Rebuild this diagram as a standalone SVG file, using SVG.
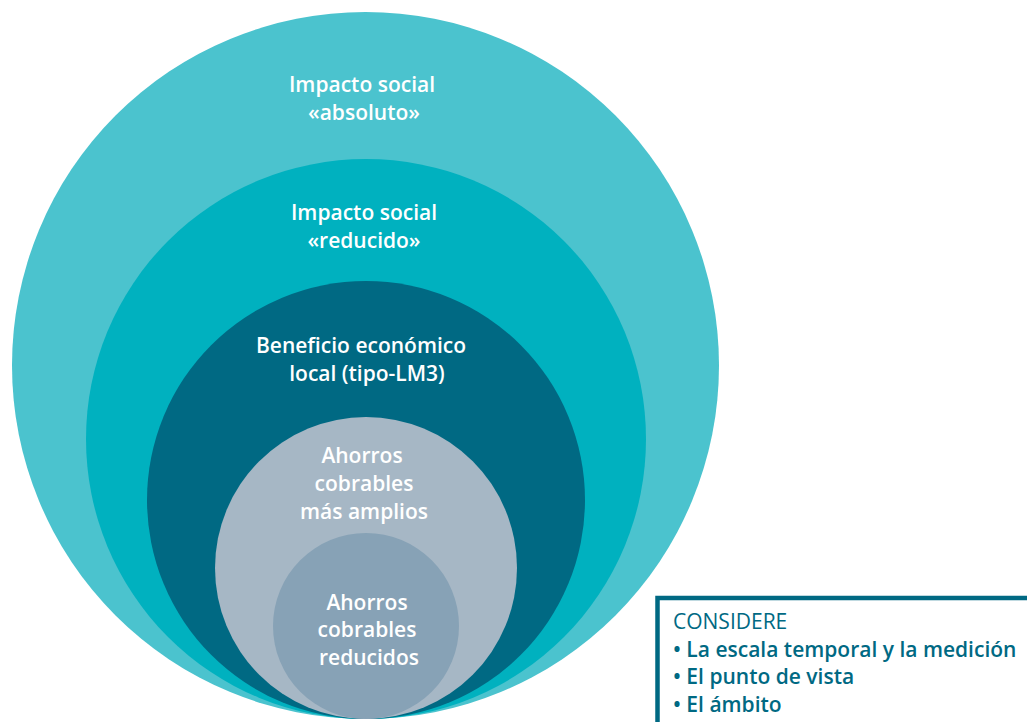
<svg xmlns="http://www.w3.org/2000/svg" width="1027" height="722" viewBox="0 0 1027 722">
<style>
.lbl{font-family:"Open Sans","Liberation Sans",sans-serif;font-size:21px;font-weight:550;fill:#ffffff;text-anchor:middle}
.box{font-family:"Open Sans","Liberation Sans",sans-serif;font-size:21px;font-weight:550;fill:#006983}
.hd{font-weight:500}
</style>
<rect width="1027" height="722" fill="#ffffff"/>
<g id="n1"><circle cx="365.5" cy="365.5" r="353.5" fill="#4BC3CE"/>
<text class="lbl" x="362" y="92">Impacto social</text><text class="lbl" x="364" y="120">«absoluto»</text></g>
<g id="n2"><circle cx="366" cy="439" r="280" fill="#00B1BF"/>
<text class="lbl" x="364" y="220">Impacto social</text><text class="lbl" x="364" y="248">«reducido»</text></g>
<g id="n3"><circle cx="366" cy="500" r="219" fill="#006983"/>
<text class="lbl" x="361" y="353">Beneficio económico</text><text class="lbl" x="367" y="381">local (tipo-LM3)</text></g>
<g id="n4"><circle cx="366" cy="568" r="151" fill="#A6B7C5"/>
<text class="lbl" x="362" y="463">Ahorros</text><text class="lbl" x="364" y="491">cobrables</text><text class="lbl" x="364" y="519">más amplios</text></g>
<g id="n5"><circle cx="366" cy="626" r="93" fill="#87A2B6"/>
<text class="lbl" x="367" y="610">Ahorros</text><text class="lbl" x="367" y="637">cobrables</text><text class="lbl" x="369" y="665">reducidos</text></g>
<g id="considere">
<path d="M657.5 722 V598 H1027" fill="none" stroke="#006983" stroke-width="4.5"/>
<text class="box hd" x="673" y="629">CONSIDERE</text>
<text class="box" x="673" y="657">• La escala temporal y la medición</text>
<text class="box" x="673" y="684">• El punto de vista</text>
<text class="box" x="673" y="712">• El ámbito</text>
</g>
<g id="connectors"/>
</svg>
